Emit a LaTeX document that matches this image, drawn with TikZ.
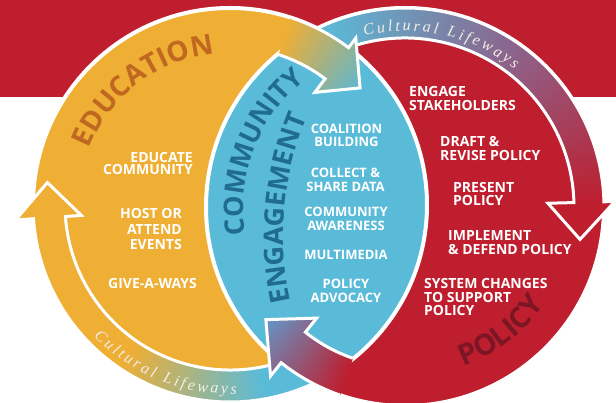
\documentclass[tikz,border=0pt]{standalone}
\usepackage{fontspec}
\usetikzlibrary{decorations.text}
\newfontfamily\sansb{Open Sans}
\newfontfamily\lifefont{Liberation Serif}
\definecolor{cred}{RGB}{190,30,46}
\definecolor{corange}{RGB}{239,174,52}
\definecolor{cblue}{RGB}{90,187,217}
\definecolor{cmauve}{RGB}{140,100,140}
\definecolor{cteal}{RGB}{95,182,207}
\definecolor{cbgray}{RGB}{100,150,200}
\definecolor{ceduc}{RGB}{192,104,32}
\definecolor{cengage}{RGB}{31,108,142}
\definecolor{cpolicy}{RGB}{125,22,36}
\definecolor{clife}{RGB}{242,238,230}
\newcommand\lifefonts{\lifefont\itshape\fontsize{16}{16}\selectfont}
% glyph widths of Liberation Serif Italic (em)
\def\lifeletters{C/0.667,u/0.5,l/0.278,t/0.278,u/0.5,r/0.389,a/0.5,l/0.278,{~}/0.25,L/0.556,i/0.278,f/0.278,e/0.444,w/0.667,a/0.5,y/0.444,s/0.389}
\def\lifegap{2.75}
\tikzset{
  bodytxt/.style={font=\sansb\bfseries\fontsize{14}{13.5}\selectfont, text=white, inner sep=0pt},
  lenstxt/.style={font=\sansb\bfseries\fontsize{13}{13.5}\selectfont, text=white, inner sep=0pt, align=center},
  rimline/.style={draw=white, line width=4pt},
  bandline/.style={draw=white, line width=3pt, line join=miter},
  lifechar/.style={font=\lifefonts, text=clife, inner sep=0pt, anchor=base},
}
\begin{document}
\begin{tikzpicture}[x=1pt,y=1pt]
\useasboundingbox (0,0) rectangle (616,403);
\fill[white] (0,0) rectangle (616,403);
\fill[cred] (0,305.5) rectangle (616,403);
% discs and lens
\fill[cred] (405,196) circle (199);
\fill[corange] (230,198) circle (197);
\begin{scope}
  \clip (230,198) circle (197);
  \fill[cblue] (405,196) circle (199);
\end{scope}
\draw[rimline] (230,198) circle (197) (405,196) circle (199);

% left outer band (arrow up at left)
\begin{scope}[shift={(230,198)}]
  \begin{scope}
    \clip (-58:197) arc[start angle=-58,end angle=-176,radius=197] -- (-176:215) -- (173:184) -- (-176:149) -- (-176:165) arc[start angle=-176,end angle=-58,radius=165] -- cycle;
    \fill[cblue] (-240,-240) rectangle (240,240);
    \fill[corange] (0,0) -- (-124:260) -- (-160:260) -- (180:260) -- (150:260) -- cycle;
    \foreach \a in {-125,-124,...,-80}{
      \pgfmathtruncatemacro\p{(\a+125)*100/45}
      \fill[cblue!\p!corange] (0,0) -- (\a:260) -- ({\a+1.6}:260) -- cycle;}
  \end{scope}
  \draw[bandline] (-58:165) arc[start angle=-58,end angle=-176,radius=165] -- (-176:149) -- (173:184) -- (-176:215) -- (-176:197) arc[start angle=-176,end angle=-58,radius=197];
\end{scope}

% right outer band (arrow down at right)
\begin{scope}[shift={(405,196)}]
  \begin{scope}
    \clip (118:199) arc[start angle=118,end angle=1.5,radius=199] -- (1.5:210) -- (-10.5:178) -- (1.5:143) -- (1.5:169) arc[start angle=1.5,end angle=118,radius=169] -- cycle;
    \fill[cred] (-240,-240) rectangle (240,240);
    \fill[cblue] (0,0) -- (114:260) -- (150:260) -- cycle;
    \foreach \a in {0,1,...,54}{
      \pgfmathtruncatemacro\p{\a*100/55}
      \fill[cmauve!\p!cred] (0,0) -- (\a:260) -- ({\a+1.6}:260) -- cycle;}
    \foreach \a in {55,56,...,114}{
      \pgfmathtruncatemacro\p{(\a-55)*100/60}
      \fill[cblue!\p!cmauve] (0,0) -- (\a:260) -- ({\a+1.6}:260) -- cycle;}
  \end{scope}
  \draw[bandline] (118:169) arc[start angle=118,end angle=1.5,radius=169] -- (1.5:143) -- (-10.5:178) -- (1.5:210) -- (1.5:199) arc[start angle=1.5,end angle=118,radius=199];
\end{scope}

% top arrow: education into community engagement
\begin{scope}[shift={(230,198)}]
  \begin{scope}
    \clip (72:197) arc[start angle=72,end angle=53,radius=197] -- (53:209) -- (42:175) -- (53:141) -- (53:158) arc[start angle=53,end angle=72,radius=158] -- cycle;
    \fill[corange] (-240,-240) rectangle (240,240);
    \foreach \a in {72,71,...,38}{
      \pgfmathtruncatemacro\p{min(100,(72-\a)*100/30)}
      \fill[cteal!\p!corange] (0,0) -- ({\a-0.8}:260) -- ({\a+0.8}:260) -- cycle;}
  \end{scope}
  \draw[bandline] (72:158) arc[start angle=72,end angle=53,radius=158] -- (53:141) -- (42:175) -- (53:209) -- (53:197) arc[start angle=53,end angle=72,radius=197];
\end{scope}

% bottom arrow: policy into community engagement
\begin{scope}[shift={(405,196)}]
  \begin{scope}
    \clip (-109:199) arc[start angle=-109,end angle=-128.5,radius=199] -- (-128.5:216) -- (-141:179) -- (-128.5:142) -- (-128.5:160) arc[start angle=-128.5,end angle=-109,radius=160] -- cycle;
    \fill[cred] (-240,-240) rectangle (240,240);
    \foreach \a in {-109,-110,...,-145}{
      \pgfmathtruncatemacro\p{min(100,(-109-\a)*100/32)}
      \fill[cbgray!\p!cred] (0,0) -- ({\a-0.8}:260) -- ({\a+0.8}:260) -- cycle;}
  \end{scope}
  \draw[bandline] (-109:160) arc[start angle=-109,end angle=-128.5,radius=160] -- (-128.5:142) -- (-141:179) -- (-128.5:216) -- (-128.5:199) arc[start angle=-128.5,end angle=-109,radius=199];
\end{scope}

% "Cultural Lifeways" along the bottom band (letter-spaced, one node per letter)
\begin{scope}[shift={(230,198)}]
  \pgfmathsetmacro\tot{7.196*16+17*\lifegap}
  \pgfmathsetmacro\cur{-112-(\tot/2)/189*57.2958}
  \xdef\cur{\cur}
  \foreach \c/\w [count=\i] in \lifeletters {
    \pgfmathsetmacro\half{((\w*16+\lifegap)/2)/189*57.2958}
    \pgfmathsetmacro\th{\cur+\half}
    \node[lifechar, rotate=\th+90] (lb\i) at (\th:189) {\c};
    \pgfmathsetmacro\nc{\cur+2*\half}
    \xdef\cur{\nc}
  }
  \path[decorate,decoration={text along path, text color=ceduc, text align=center,
    text={|\sansb\bfseries\fontsize{28}{28}\selectfont|EDUCATION}}]
    (160:152) arc[start angle=160,end angle=94,radius=152];
\end{scope}

% "Cultural Lifeways" along the top band
\begin{scope}[shift={(405,196)}]
  \pgfmathsetmacro\tot{7.196*16+17*\lifegap}
  \pgfmathsetmacro\cur{77.4+(\tot/2)/176*57.2958}
  \xdef\cur{\cur}
  \foreach \c/\w [count=\i] in \lifeletters {
    \pgfmathsetmacro\half{((\w*16+\lifegap)/2)/176*57.2958}
    \pgfmathsetmacro\th{\cur-\half}
    \node[lifechar, rotate=\th-90] (lt\i) at (\th:176) {\c};
    \pgfmathsetmacro\nc{\cur-2*\half}
    \xdef\cur{\nc}
  }
  \path[decorate,decoration={text along path, text color=cpolicy, text align=center,
    text={|\sansb\bfseries\fontsize{29}{29}\selectfont|POLICY}}]
    (-80:170) arc[start angle=-80,end angle=-25,radius=170];
  \path[decorate,decoration={text along path, text color=cengage, text align=center,
    text={|\sansb\bfseries\fontsize{27}{27}\selectfont|COMMUNITY}}]
    (196:161.5) arc[start angle=196,end angle=122,radius=161.5];
\end{scope}
\begin{scope}[shift={(590,168)}]
  \path[decorate,decoration={text along path, text color=cengage, text align=center,
    text={|\sansb\bfseries\fontsize{27}{27}\selectfont|ENGAGEMENT}}]
    (196:306.5) arc[start angle=196,end angle=154,radius=306.5];
\end{scope}

% education items
\node[bodytxt, anchor=east, align=right, font=\sansb\bfseries\fontsize{14}{12}\selectfont] (edu1) at (193,239.5) {EDUCATE\\COMMUNITY};
\node[bodytxt, anchor=east, align=right, font=\sansb\bfseries\fontsize{14}{15.5}\selectfont] (edu2) at (182,174) {HOST OR\\ATTEND\\EVENTS};
\node[bodytxt, anchor=center] (edu3) at (152.5,119) {GIVE-A-WAYS};

% policy items
\node[bodytxt, anchor=west, align=left] (pol1) at (409,304.5) {ENGAGE\\STAKEHOLDERS};
\node[bodytxt, anchor=west, align=left] (pol2) at (440,254.5) {DRAFT \&\\REVISE POLICY};
\node[bodytxt, anchor=west, align=left] (pol3) at (453,209) {PRESENT\\POLICY};
\node[bodytxt, anchor=west, align=left] (pol4) at (448,160.5) {IMPLEMENT\\\& DEFEND POLICY};
\node[bodytxt, anchor=west, align=left] (pol5) at (424,105.5) {SYSTEM CHANGES\\TO SUPPORT\\POLICY};

% community engagement items
\node[lenstxt] (ce1) at (346.5,267.5) {COALITION\\BUILDING};
\node[lenstxt] (ce2) at (345.5,223) {COLLECT \&\\SHARE DATA};
\node[lenstxt] (ce3) at (346,184) {COMMUNITY\\AWARENESS};
\node[lenstxt] (ce4) at (346,148) {MULTIMEDIA};
\node[lenstxt] (ce5) at (346,112) {POLICY\\ADVOCACY};
\end{tikzpicture}
\end{document}
